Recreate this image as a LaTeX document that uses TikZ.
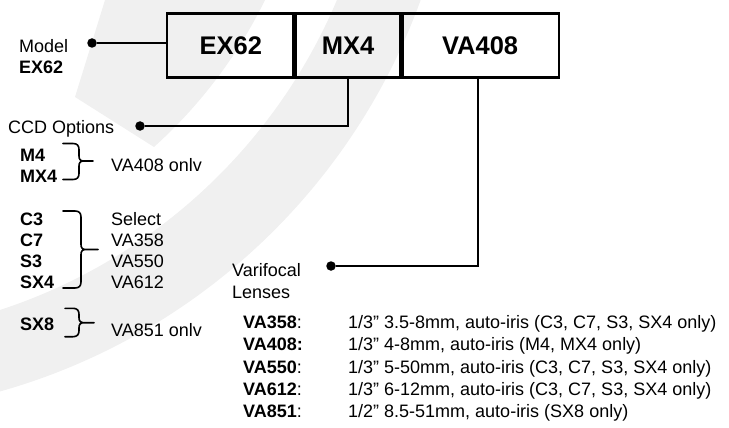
\documentclass[tikz,border=0pt]{standalone}
\usepackage{fontspec}
\setmainfont{Liberation Sans}
\newcommand{\brc}[6]{% #1 xleft, #2 xvert, #3 xtip, #4 ytop, #5 ymid, #6 ybot
  \draw[br] (#1,#4) -- ({#2-6},#4) .. controls ({#2-2},#4) and (#2,{#4+2}) .. (#2,{#4+6})
    -- (#2,{#5-5}) .. controls (#2,{#5-1.5}) and ({#2+1.5},#5) .. ({#2+5},#5) -- (#3,#5)
    ({#2+5},#5) .. controls ({#2+1.5},#5) and (#2,{#5+1.5}) .. (#2,{#5+5})
    -- (#2,{#6-6}) .. controls (#2,{#6-2}) and ({#2-2},#6) .. ({#2-6},#6) -- (#1,#6);}
\begin{document}
\begin{tikzpicture}[x=1pt,y=-1pt,
  txt/.style={font=\fontsize{18}{21}\selectfont, inner sep=0pt, anchor=base west},
  btxt/.style={txt, font=\fontsize{18}{21}\selectfont\bfseries},
  cell/.style={minimum height=63.5pt, inner sep=0pt, font=\fontsize{25.5}{30}\selectfont\bfseries},
  conn/.style={line width=1.8pt},
  dotn/.style={circle, fill=black, inner sep=0pt, minimum size=9.5pt},
  br/.style={line width=1.6pt, line cap=round},
  wm/.style={fill=black!6}]
\useasboundingbox (0,0) rectangle (729,428);
% watermark
\begin{scope}
  \clip (0,0) rectangle (729,428);
  \fill[wm, even odd rule] (-171,-214) circle[radius=629] (-171,-214) circle[radius=551];
  \fill[wm] (105,0) -- (75,97) -- (154,147) arc[start angle=48, end angle=26.1, radius=486] -- cycle;
\end{scope}
% code box
\node[cell, minimum width=127.2pt] (cellA) at (230.9,45.5) {EX62};
\node[cell, minimum width=107pt] (cellB) at (348,45.5) {MX4};
\node[cell, minimum width=157.2pt] (cellC) at (480.1,45.5) {VA408};
\draw[line width=2.5pt] (cellA.north west) rectangle (cellC.south east);
\draw[line width=4.5pt] (cellA.north east) -- (cellA.south east);
\draw[line width=4.5pt] (cellB.north east) -- (cellB.south east);
% connectors
\node[dotn] (dm) at (92,43) {};
\draw[conn] (dm) -- (dm -| cellA.west);
\node[dotn] (dc) at (140,126) {};
\draw[conn] (cellB.south) |- (dc);
\node[dotn] (dv) at (331,266) {};
\draw[conn] ([xshift=-2.5pt]cellC.south) |- (dv);
% left labels
\node[txt] (lmodel) at (19,52.7) {Model};
\node[btxt] (lex) at (19,73.3) {EX62};
\node[txt] (lccd) at (8,133.3) {CCD Options};
\node[btxt] (m4) at (20,161) {M4};
\node[btxt] (mx4) at (20,182) {MX4};
\node[txt] (o1) at (111,171.5) {VA408 onlv};
\node[btxt] (c3) at (20,225.5) {C3};
\node[btxt] (c7) at (20,246.5) {C7};
\node[btxt] (s3) at (20,267.3) {S3};
\node[btxt] (sx4) at (20,288.3) {SX4};
\node[txt] (sel) at (111,225.5) {Select};
\node[txt] (s1) at (111,246.5) {VA358};
\node[txt] (s2) at (111,267.3) {VA550};
\node[txt] (s3t) at (111,288.3) {VA612};
\node[btxt] (sx8) at (20,330) {SX8};
\node[txt] (o2) at (111,336.5) {VA851 onlv};
\brc{63}{79}{93}{143.5}{161}{179.5}
\brc{63}{81}{98}{211}{249.5}{288}
\brc{65}{79}{94}{308.3}{322.7}{336.7}
% lenses
\node[txt] (vari) at (232,276.7) {Varifocal};
\node[txt] (lens) at (232,298.3) {Lenses};
\node[txt] (k1) at (243,328.3) {\textbf{VA358}:};
\node[txt] (k2) at (243,350.7) {\textbf{VA408:}};
\node[txt] (k3) at (243,373) {\textbf{VA550}:};
\node[txt] (k4) at (243,395.5) {\textbf{VA612}:};
\node[txt] (k5) at (243,417.7) {\textbf{VA851}:};
\node[txt] (d1) at (348,328.3) {1/3” 3.5-8mm, auto-iris (C3, C7, S3, SX4 only)};
\node[txt] (d2) at (348,350.7) {1/3” 4-8mm, auto-iris (M4, MX4 only)};
\node[txt] (d3) at (348,373) {1/3” 5-50mm, auto-iris (C3, C7, S3, SX4 only)};
\node[txt] (d4) at (348,395.5) {1/3” 6-12mm, auto-iris (C3, C7, S3, SX4 only)};
\node[txt] (d5) at (348,417.7) {1/2” 8.5-51mm, auto-iris (SX8 only)};
\end{tikzpicture}
\end{document}
